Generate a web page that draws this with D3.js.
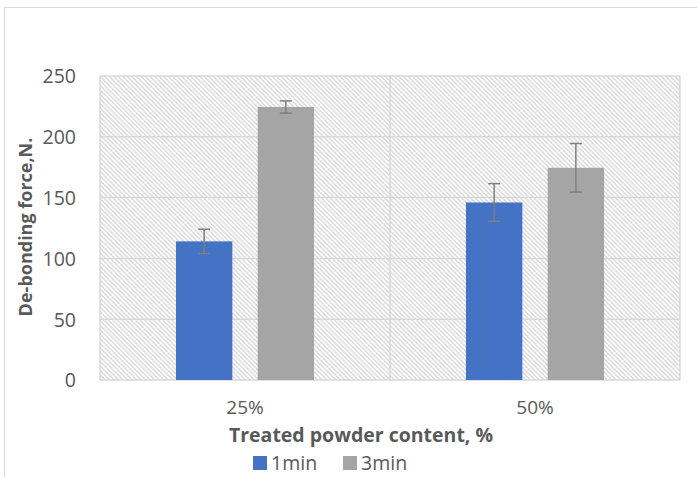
<!DOCTYPE html>
<html>
<head>
<meta charset="utf-8">
<script src="https://cdn.jsdelivr.net/npm/d3@7"></script>
<style>
  html, body { margin: 0; padding: 0; background: #fff; }
  svg { display: block; }
  text { font-family: "Open Sans", "Segoe UI", sans-serif; fill: #595959; }
</style>
</head>
<body>
<svg id="chart" width="697" height="477"></svg>
<script>
// Treated powder content groups and mixing-time series
const categories = ["25%", "50%"];
const seriesNames = ["1min", "3min"];
const values1min = [114, 146];
const values3min = [224.5, 174.5];
const err1min = [10, 15.5];
const err3min = [5, 20];
const yTicks = [0, 50, 100, 150, 200, 250];
const seriesColors = ["#4472C4", "#A5A5A5"];

const svg = d3.select("#chart");
const W = 697, H = 477;
const plot = { left: 100, right: 680, top: 76, bottom: 380 };

// chart-area frame
svg.append("rect")
  .attr("x", 4.5).attr("y", 7.5)
  .attr("width", W + 10).attr("height", H + 10)
  .attr("fill", "#fff").attr("stroke", "#d9d9d9").attr("stroke-width", 1);

// diagonal hatch for the plot background
const defs = svg.append("defs");
const pat = defs.append("pattern")
  .attr("id", "hatch")
  .attr("patternUnits", "userSpaceOnUse")
  .attr("width", 3.2).attr("height", 3.2)
  .attr("patternTransform", "rotate(-45)");
pat.append("rect").attr("width", 3.2).attr("height", 3.2).attr("fill", "#fff");
pat.append("line")
  .attr("x1", 0.8).attr("y1", 0).attr("x2", 0.8).attr("y2", 3.2)
  .attr("stroke", "#d6d6d6").attr("stroke-width", 1.3);

const x0 = d3.scaleBand().domain(categories).range([plot.left, plot.right]);
const x1 = d3.scaleBand().domain(seriesNames).range([0, x0.bandwidth()])
  .paddingInner(0.31).paddingOuter(0.93);
const y = d3.scaleLinear().domain([0, 250]).range([plot.bottom, plot.top]);

svg.append("rect")
  .attr("x", plot.left).attr("y", plot.top)
  .attr("width", plot.right - plot.left).attr("height", plot.bottom - plot.top)
  .attr("fill", "url(#hatch)");

// horizontal gridlines
svg.append("g").selectAll("line").data(yTicks).join("line")
  .attr("x1", plot.left).attr("x2", plot.right)
  .attr("y1", d => y(d)).attr("y2", d => y(d))
  .attr("stroke", "#d9d9d9").attr("stroke-width", 1.5);

// vertical gridlines at category boundaries
const vLines = [plot.left, ...categories.map(c => x0(c) + x0.bandwidth())];
svg.append("g").selectAll("line").data(vLines).join("line")
  .attr("x1", d => d).attr("x2", d => d)
  .attr("y1", plot.top).attr("y2", plot.bottom)
  .attr("stroke", "#d9d9d9").attr("stroke-width", 1.5);

// y axis tick labels
const yAxis = d3.axisLeft(y).tickValues(yTicks).tickSize(0).tickPadding(24);
const gy = svg.append("g").attr("transform", `translate(${plot.left},0)`).call(yAxis);
gy.select(".domain").remove();
gy.selectAll("text").style("font-size", "19.5px").attr("fill", "#595959")
  .style("font-family", "\"Open Sans\", sans-serif").attr("dy", "0.35em");

// x axis category labels
const xAxis = d3.axisBottom(x0).tickSize(0).tickPadding(21);
const gx = svg.append("g").attr("transform", `translate(0,${plot.bottom})`).call(xAxis);
gx.select(".domain").remove();
gx.selectAll("text").style("font-size", "19px").attr("fill", "#595959")
  .style("font-family", "\"Open Sans\", sans-serif");

// bars
const rows = categories.map((c, i) => ({
  cat: c,
  items: [
    { s: "1min", v: values1min[i], e: err1min[i] },
    { s: "3min", v: values3min[i], e: err3min[i] }
  ]
}));
const color = d3.scaleOrdinal().domain(seriesNames).range(seriesColors);

const groups = svg.append("g").selectAll("g").data(rows).join("g")
  .attr("transform", d => `translate(${x0(d.cat)},0)`);

groups.selectAll("rect").data(d => d.items).join("rect")
  .attr("x", d => x1(d.s))
  .attr("width", x1.bandwidth())
  .attr("y", d => y(d.v))
  .attr("height", d => y(0) - y(d.v))
  .attr("fill", d => color(d.s));

// error bars
const eb = groups.selectAll("g.err").data(d => d.items).join("g").attr("class", "err")
  .attr("stroke", "#7f7f7f").attr("stroke-width", 1.5);
eb.append("line")
  .attr("x1", d => x1(d.s) + x1.bandwidth() / 2).attr("x2", d => x1(d.s) + x1.bandwidth() / 2)
  .attr("y1", d => y(d.v + d.e)).attr("y2", d => y(d.v - d.e));
eb.append("line")
  .attr("x1", d => x1(d.s) + x1.bandwidth() / 2 - 6).attr("x2", d => x1(d.s) + x1.bandwidth() / 2 + 6)
  .attr("y1", d => y(d.v + d.e)).attr("y2", d => y(d.v + d.e));
eb.append("line")
  .attr("x1", d => x1(d.s) + x1.bandwidth() / 2 - 6).attr("x2", d => x1(d.s) + x1.bandwidth() / 2 + 6)
  .attr("y1", d => y(d.v - d.e)).attr("y2", d => y(d.v - d.e));

// axis titles
svg.append("text")
  .attr("x", 361).attr("y", 442)
  .attr("text-anchor", "middle")
  .style("font-size", "19.5px").style("font-weight", "bold")
  .text("Treated powder content, %");

svg.append("text")
  .attr("transform", "translate(32,227) rotate(-90)")
  .attr("text-anchor", "middle")
  .style("font-size", "18px").style("font-weight", "bold")
  .text("De-bonding force,N.");

// legend
const legend = svg.append("g");
const legX = [253, 343];
seriesNames.forEach((s, i) => {
  legend.append("rect")
    .attr("x", legX[i]).attr("y", 456)
    .attr("width", 14).attr("height", 14)
    .attr("fill", color(s));
  legend.append("text")
    .attr("x", legX[i] + 18).attr("y", 470)
    .style("font-size", "19.5px")
    .text(s);
});
</script>
</body>
</html>
